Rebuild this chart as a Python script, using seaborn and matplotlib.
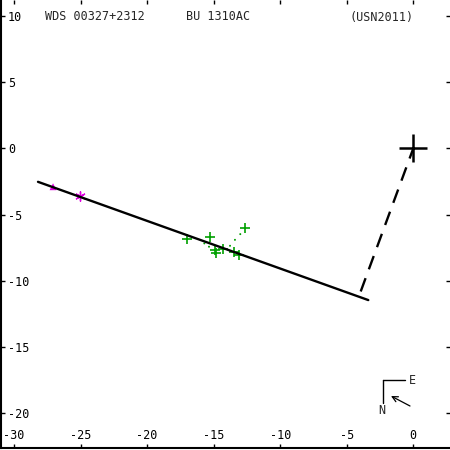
import matplotlib
matplotlib.use("Agg")
import matplotlib.pyplot as plt
import seaborn as sns
import pandas as pd

# ---- data ----
title_left = "WDS 00327+2312"
title_mid = "BU 1310AC"
title_right = "(USN2011)"

# fitted linear path (solid) and connection to primary (dashed)
line_x = [-28.20, -3.38]
line_y = [-2.52, -11.45]
dash_x = [-3.95, 0.0]
dash_y = [-10.8, 0.0]

# measures
green_x = [-17.02, -15.27, -14.90, -14.82, -14.27, -13.45, -13.07, -12.64]
green_y = [-6.84, -6.72, -7.65, -7.88, -7.60, -7.85, -8.05, -5.97]
dot_x = [-15.70, -15.35, -13.77, -13.40, -13.00]
dot_y = [-7.17, -7.42, -7.35, -6.90, -6.47]
tri_x = [-27.07]
tri_y = [-2.89]
star_x = [-25.04]
star_y = [-3.57]

xticks = [-30, -25, -20, -15, -10, -5, 0]
yticks = [10, 5, 0, -5, -10, -15, -20]

# ---- plot ----
sns.set_style("white")
plt.rcParams["font.family"] = ["DejaVu Sans Mono"]
fig = plt.figure(figsize=(4.5, 4.5), dpi=100)
ax = fig.add_axes([1/450, 2/450, 449/450, 448/450])

sns.lineplot(x=line_x, y=line_y, sort=False, color="black", lw=1.7, ax=ax)
sns.lineplot(x=dash_x, y=dash_y, sort=False, color="black", lw=1.7, ax=ax,
             dashes=False)
ax.lines[-1].set_linestyle((0, (6, 4)))

sns.scatterplot(x=dot_x, y=dot_y, marker="o", s=2, color="#00a000",
                edgecolor="none", ax=ax)
sns.scatterplot(x=green_x, y=green_y, marker="+", s=55, color="#00a000",
                linewidth=1.2, ax=ax)
sns.scatterplot(x=tri_x, y=tri_y, marker="^", s=25, color="#e000e0",
                edgecolor="none", ax=ax)
sns.scatterplot(x=star_x, y=star_y, marker=(6, 2, 0), s=45, color="#e000e0",
                linewidth=1.0, ax=ax)
sns.scatterplot(x=[0], y=[0], marker="+", s=420, color="black",
                linewidth=1.8, ax=ax)

ax.set_xlim(-30.98, 2.76)
ax.set_ylim(-22.62, 11.21)
ax.set_xticks(xticks)
ax.set_yticks(yticks)
ax.set_xticklabels([str(v) for v in xticks])
ax.set_yticklabels([str(v) for v in yticks])

for s in ["top", "right"]:
    ax.spines[s].set_visible(False)
for s in ["left", "bottom"]:
    ax.spines[s].set_visible(True)
    ax.spines[s].set_color("black")
    ax.spines[s].set_linewidth(1.5)

ax.tick_params(axis="x", direction="in", length=3, width=1, top=True,
               bottom=True, labelsize=8.5, pad=-14, colors="black")
ax.tick_params(axis="y", direction="in", length=3, width=1, left=True,
               right=True, labelsize=8.5, pad=-5, colors="black")
for lbl in ax.get_yticklabels():
    lbl.set_horizontalalignment("left")

def P(px, py):
    return (px / 450, 1 - py / 450)

fs = 8.5
fig.text(*P(45, 17), title_left, ha="left", va="center", fontsize=fs)
fig.text(*P(186, 17), title_mid, ha="left", va="center", fontsize=fs)
fig.text(*P(350, 17), title_right, ha="left", va="center", fontsize=fs)

# compass
ax.add_line(plt.Line2D([383/450, 405/450], [1-380/450, 1-380/450],
                       transform=fig.transFigure, color="black", lw=1))
ax.add_line(plt.Line2D([383/450, 383/450], [1-380/450, 1-403/450],
                       transform=fig.transFigure, color="black", lw=1))
fig.text(*P(412, 380), "E", ha="center", va="center", fontsize=fs)
fig.text(*P(382, 410), "N", ha="center", va="center", fontsize=fs)
ax.annotate("", xy=P(391, 396), xytext=P(410, 406),
            xycoords="figure fraction", textcoords="figure fraction",
            arrowprops=dict(arrowstyle="->", lw=0.9, color="black",
                            shrinkA=0, shrinkB=0))

fig.savefig("out.png", dpi=100)
